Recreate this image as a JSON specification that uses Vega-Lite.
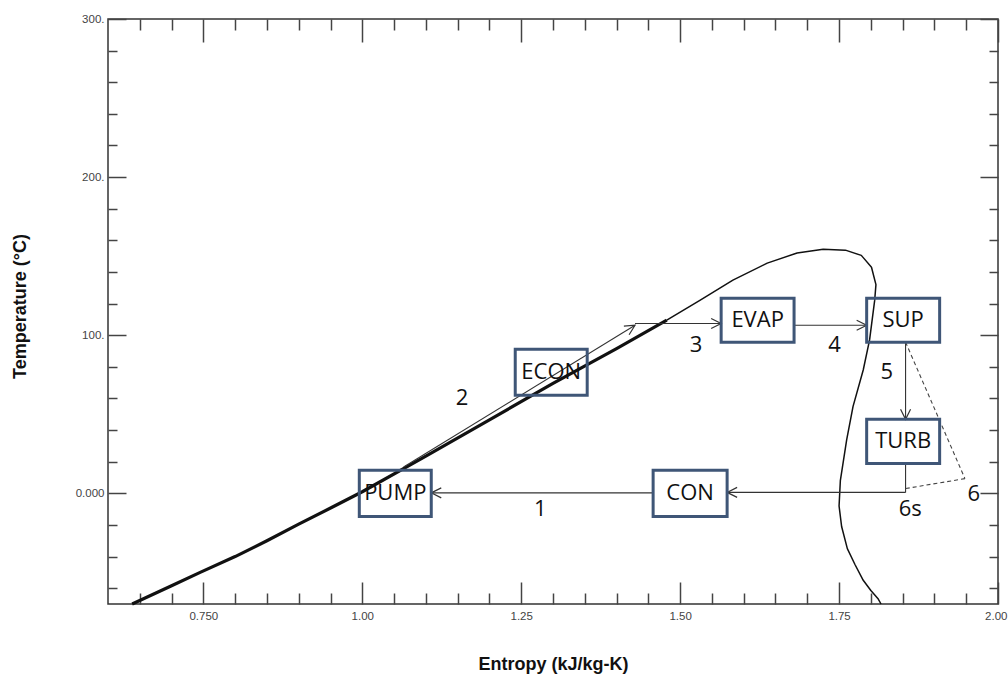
{
  "$schema": "https://vega.github.io/schema/vega-lite/v6.json",
  "width": 890,
  "height": 585,
  "autosize": {"type": "none"},
  "padding": {"left": 108, "top": 19, "right": 10, "bottom": 71},
  "background": "white",
  "config": {
    "view": {"stroke": "#333", "strokeWidth": 1.5},
    "axis": {"grid": false, "domain": false, "tickColor": "#444", "tickWidth": 1.5, "labelFont": "Liberation Sans", "labelFontSize": 11.5, "labelColor": "#444", "labelFlush": false, "labelOverlap": false}
  },
  "datasets": {
    "dome": [
      {"s": 0.638, "T": -70, "part": "liq", "i": 0},
      {"s": 0.7, "T": -58.5, "part": "liq", "i": 1},
      {"s": 0.745, "T": -50, "part": "liq", "i": 2},
      {"s": 0.8, "T": -40, "part": "liq", "i": 3},
      {"s": 0.85, "T": -30, "part": "liq", "i": 4},
      {"s": 0.9, "T": -19.5, "part": "liq", "i": 5},
      {"s": 0.954, "T": -8.5, "part": "liq", "i": 6},
      {"s": 1.0, "T": 1, "part": "liq", "i": 7},
      {"s": 1.1, "T": 23.5, "part": "liq", "i": 8},
      {"s": 1.2, "T": 46.5, "part": "liq", "i": 9},
      {"s": 1.3, "T": 69.5, "part": "liq", "i": 10},
      {"s": 1.4, "T": 91.5, "part": "liq", "i": 11},
      {"s": 1.479, "T": 109.5, "part": "liq", "i": 12},
      {"s": 1.479, "T": 109.5, "part": "vap", "i": 12},
      {"s": 1.531, "T": 122, "part": "vap", "i": 13},
      {"s": 1.583, "T": 134.8, "part": "vap", "i": 14},
      {"s": 1.637, "T": 145.6, "part": "vap", "i": 15},
      {"s": 1.684, "T": 152, "part": "vap", "i": 16},
      {"s": 1.725, "T": 154.4, "part": "vap", "i": 17},
      {"s": 1.76, "T": 153.8, "part": "vap", "i": 18},
      {"s": 1.785, "T": 150.5, "part": "vap", "i": 19},
      {"s": 1.801, "T": 143, "part": "vap", "i": 20},
      {"s": 1.808, "T": 132, "part": "vap", "i": 21},
      {"s": 1.806, "T": 122, "part": "vap", "i": 22},
      {"s": 1.798, "T": 97, "part": "vap", "i": 23},
      {"s": 1.788, "T": 78, "part": "vap", "i": 24},
      {"s": 1.772, "T": 55, "part": "vap", "i": 25},
      {"s": 1.762, "T": 34, "part": "vap", "i": 26},
      {"s": 1.752, "T": 8, "part": "vap", "i": 27},
      {"s": 1.75, "T": -8, "part": "vap", "i": 28},
      {"s": 1.754, "T": -21, "part": "vap", "i": 29},
      {"s": 1.763, "T": -35, "part": "vap", "i": 30},
      {"s": 1.775, "T": -45, "part": "vap", "i": 31},
      {"s": 1.788, "T": -55, "part": "vap", "i": 32},
      {"s": 1.8, "T": -61.5, "part": "vap", "i": 33},
      {"s": 1.811, "T": -66.5, "part": "vap", "i": 34},
      {"s": 1.816, "T": -70, "part": "vap", "i": 35}
    ],
    "segs": [
      {"seg": "1a", "s1": 1.8546, "T1": 0.6, "s2": 1.5739, "T2": 0.6},
      {"seg": "1b", "s1": 1.4575, "T1": 0.3, "s2": 1.1085, "T2": 0.3},
      {"seg": "2", "s1": 1.065, "T1": 16.6, "s2": 1.429, "T2": 106.3},
      {"seg": "3", "s1": 1.429, "T1": 107.4, "s2": 1.5645, "T2": 107.4},
      {"seg": "4", "s1": 1.6792, "T1": 106.3, "s2": 1.7934, "T2": 106.3},
      {"seg": "5", "s1": 1.8546, "T1": 95.6, "s2": 1.8546, "T2": 46.8},
      {"seg": "6s", "s1": 1.8546, "T1": 18.9, "s2": 1.8546, "T2": 0.6}
    ],
    "dashed": [
      {"seg": "5-6", "s1": 1.8546, "T1": 95.6, "s2": 1.948, "T2": 9.3},
      {"seg": "6-6s", "s1": 1.948, "T1": 9.3, "s2": 1.8546, "T2": 3.0}
    ],
    "heads": [
      {"s": 1.5739, "T": 0.6, "dir": "left"},
      {"s": 1.1085, "T": 0.3, "dir": "left"},
      {"s": 1.429, "T": 106.3, "dir": "upright"},
      {"s": 1.5645, "T": 107.4, "dir": "right"},
      {"s": 1.7934, "T": 106.3, "dir": "right"},
      {"s": 1.8546, "T": 46.8, "dir": "down"}
    ],
    "boxes": [
      {"name": "ECON", "s1": 1.2406, "s2": 1.3538, "T1": 62.0, "T2": 91.1, "sc": 1.2972, "Tc": 76.6},
      {"name": "PUMP", "s1": 0.9953, "s2": 1.1085, "T1": -14.6, "T2": 14.6, "sc": 1.0519, "Tc": 0},
      {"name": "CON", "s1": 1.4575, "s2": 1.5739, "T1": -14.6, "T2": 14.6, "sc": 1.5157, "Tc": 0},
      {"name": "EVAP", "s1": 1.5645, "s2": 1.6792, "T1": 95.6, "T2": 123.4, "sc": 1.6219, "Tc": 109.5},
      {"name": "SUP", "s1": 1.7934, "s2": 1.9082, "T1": 95.6, "T2": 123.4, "sc": 1.8508, "Tc": 109.5},
      {"name": "TURB", "s1": 1.7934, "s2": 1.9082, "T1": 18.9, "T2": 46.8, "sc": 1.8508, "Tc": 32.9}
    ],
    "labels": [
      {"lab": "1", "s": 1.28, "T": -10},
      {"lab": "2", "s": 1.157, "T": 60.3},
      {"lab": "3", "s": 1.525, "T": 93.7},
      {"lab": "4", "s": 1.743, "T": 93.7},
      {"lab": "5", "s": 1.825, "T": 76.8},
      {"lab": "6", "s": 1.962, "T": -0.2},
      {"lab": "6s", "s": 1.862, "T": -9.7}
    ]
  },
  "resolve": {"axis": {"x": "independent", "y": "independent"}},
  "layer": [
    {
      "data": {"name": "dome"},
      "transform": [{"filter": "datum.part == 'liq'"}],
      "mark": {"type": "line", "color": "#111", "strokeWidth": 3.2, "strokeJoin": "round"},
      "encoding": {
        "x": {"field": "s", "type": "quantitative", "scale": {"domain": [0.6, 2.0], "nice": false, "zero": false},
          "axis": {"orient": "bottom", "values": [0.75, 1, 1.25, 1.5, 1.75, 2], "tickSize": -22, "labelPadding": 28,
            "labelExpr": "datum.value == 0.75 ? '0.750' : format(datum.value, '.2f')",
            "labelAlign": {"condition": {"test": "datum.value == 2", "value": "right"}, "value": "center"},
            "labelOffset": {"condition": {"test": "datum.value == 2", "value": 9}, "value": 0},
            "title": "Entropy (kJ/kg-K)", "titleFont": "Liberation Sans", "titleFontSize": 18, "titleFontWeight": "bold", "titleColor": "#111",
            "titleY": 65, "titleBaseline": "alphabetic"}},
        "y": {"field": "T", "type": "quantitative", "scale": {"domain": [-70, 300], "nice": false, "zero": false},
          "axis": {"orient": "left", "values": [0, 100, 200, 300], "tickSize": -18, "labelPadding": 22,
            "labelExpr": "datum.value == 0 ? '0.000' : format(datum.value, 'd') + '.'",
            "title": "Temperature (°C)", "titleFont": "Liberation Sans", "titleFontSize": 18, "titleFontWeight": "bold", "titleColor": "#111",
            "titleX": -88, "titleY": 287, "titleBaseline": "middle"}},
        "order": {"field": "i", "type": "quantitative"}
      }
    },
    {
      "data": {"name": "dome"},
      "transform": [{"filter": "datum.part == 'vap'"}],
      "mark": {"type": "line", "color": "#111", "strokeWidth": 1.5, "strokeJoin": "round"},
      "encoding": {
        "x": {"field": "s", "type": "quantitative", "scale": {"domain": [0.6, 2.0], "nice": false, "zero": false}, "axis": null},
        "y": {"field": "T", "type": "quantitative", "scale": {"domain": [-70, 300], "nice": false, "zero": false}, "axis": null},
        "order": {"field": "i", "type": "quantitative"}
      }
    },
    {
      "data": {"name": "segs"},
      "mark": {"type": "rule", "color": "#333", "strokeWidth": 1.1},
      "encoding": {
        "x": {"field": "s1", "type": "quantitative", "scale": {"domain": [0.6, 2.0], "nice": false, "zero": false},
          "axis": {"orient": "bottom", "values": [0.65, 0.7, 0.8, 0.85, 0.9, 0.95, 1.05, 1.1, 1.15, 1.2, 1.3, 1.35, 1.4, 1.45, 1.55, 1.6, 1.65, 1.7, 1.8, 1.85, 1.9, 1.95], "tickSize": -11, "labels": false, "title": null}},
        "x2": {"field": "s2"},
        "y": {"field": "T1", "type": "quantitative", "scale": {"domain": [-70, 300], "nice": false, "zero": false},
          "axis": {"orient": "left", "values": [-60, -40, -20, 20, 40, 60, 80, 120, 140, 160, 180, 220, 240, 260, 280], "tickSize": -9, "labels": false, "title": null}},
        "y2": {"field": "T2"}
      }
    },
    {
      "data": {"name": "dashed"},
      "mark": {"type": "rule", "color": "#444", "strokeWidth": 1.1, "strokeDash": [4, 3]},
      "encoding": {
        "x": {"field": "s1", "type": "quantitative", "scale": {"domain": [0.6, 2.0], "nice": false, "zero": false}, "axis": null},
        "x2": {"field": "s2"},
        "y": {"field": "T1", "type": "quantitative", "scale": {"domain": [-70, 300], "nice": false, "zero": false}, "axis": null},
        "y2": {"field": "T2"}
      }
    },
    {
      "data": {"name": "heads"},
      "transform": [{"filter": "datum.dir == 'right'"}],
      "mark": {"type": "point", "shape": "M-1,-0.5L0,0L-1,0.5", "filled": false, "color": "#333", "strokeWidth": 1.2, "size": 400, "opacity": 1, "angle": 0},
      "encoding": {
        "x": {"field": "s", "type": "quantitative", "scale": {"domain": [0.6, 2.0], "nice": false, "zero": false}, "axis": null},
        "y": {"field": "T", "type": "quantitative", "scale": {"domain": [-70, 300], "nice": false, "zero": false}, "axis": null}
      }
    },
    {
      "data": {"name": "heads"},
      "transform": [{"filter": "datum.dir == 'left'"}],
      "mark": {"type": "point", "shape": "M-1,-0.5L0,0L-1,0.5", "filled": false, "color": "#333", "strokeWidth": 1.2, "size": 400, "opacity": 1, "angle": 180},
      "encoding": {
        "x": {"field": "s", "type": "quantitative", "scale": {"domain": [0.6, 2.0], "nice": false, "zero": false}, "axis": null},
        "y": {"field": "T", "type": "quantitative", "scale": {"domain": [-70, 300], "nice": false, "zero": false}, "axis": null}
      }
    },
    {
      "data": {"name": "heads"},
      "transform": [{"filter": "datum.dir == 'down'"}],
      "mark": {"type": "point", "shape": "M-1,-0.5L0,0L-1,0.5", "filled": false, "color": "#333", "strokeWidth": 1.2, "size": 400, "opacity": 1, "angle": 90},
      "encoding": {
        "x": {"field": "s", "type": "quantitative", "scale": {"domain": [0.6, 2.0], "nice": false, "zero": false}, "axis": null},
        "y": {"field": "T", "type": "quantitative", "scale": {"domain": [-70, 300], "nice": false, "zero": false}, "axis": null}
      }
    },
    {
      "data": {"name": "heads"},
      "transform": [{"filter": "datum.dir == 'upright'"}],
      "mark": {"type": "point", "shape": "M-1,-0.5L0,0L-1,0.5", "filled": false, "color": "#333", "strokeWidth": 1.2, "size": 400, "opacity": 1, "angle": 328.5},
      "encoding": {
        "x": {"field": "s", "type": "quantitative", "scale": {"domain": [0.6, 2.0], "nice": false, "zero": false}, "axis": null},
        "y": {"field": "T", "type": "quantitative", "scale": {"domain": [-70, 300], "nice": false, "zero": false}, "axis": null}
      }
    },
    {
      "data": {"name": "boxes"},
      "mark": {"type": "rect", "filled": false, "stroke": "#3f5677", "strokeWidth": 3},
      "encoding": {
        "x": {"field": "s1", "type": "quantitative", "scale": {"domain": [0.6, 2.0], "nice": false, "zero": false},
          "axis": {"orient": "top", "values": [0.75, 1, 1.25, 1.5, 1.75, 2], "tickSize": -23, "labels": false, "title": null}},
        "x2": {"field": "s2"},
        "y": {"field": "T1", "type": "quantitative", "scale": {"domain": [-70, 300], "nice": false, "zero": false},
          "axis": {"orient": "right", "values": [0, 100, 200, 300], "tickSize": -18, "labels": false, "title": null}},
        "y2": {"field": "T2"}
      }
    },
    {
      "data": {"name": "boxes"},
      "mark": {"type": "text", "font": "Open Sans", "fontSize": 22, "color": "#111", "align": "center", "baseline": "middle"},
      "encoding": {
        "x": {"field": "sc", "type": "quantitative", "scale": {"domain": [0.6, 2.0], "nice": false, "zero": false},
          "axis": {"orient": "top", "values": [0.65, 0.7, 0.8, 0.85, 0.9, 0.95, 1.05, 1.1, 1.15, 1.2, 1.3, 1.35, 1.4, 1.45, 1.55, 1.6, 1.65, 1.7, 1.8, 1.85, 1.9, 1.95], "tickSize": -11, "labels": false, "title": null}},
        "y": {"field": "Tc", "type": "quantitative", "scale": {"domain": [-70, 300], "nice": false, "zero": false},
          "axis": {"orient": "right", "values": [-60, -40, -20, 20, 40, 60, 80, 120, 140, 160, 180, 220, 240, 260, 280], "tickSize": -9, "labels": false, "title": null}},
        "text": {"field": "name", "type": "nominal"}
      }
    },
    {
      "data": {"name": "labels"},
      "mark": {"type": "text", "font": "Open Sans", "fontSize": 22, "color": "#111", "align": "center", "baseline": "middle"},
      "encoding": {
        "x": {"field": "s", "type": "quantitative", "scale": {"domain": [0.6, 2.0], "nice": false, "zero": false}, "axis": null},
        "y": {"field": "T", "type": "quantitative", "scale": {"domain": [-70, 300], "nice": false, "zero": false}, "axis": null},
        "text": {"field": "lab", "type": "nominal"}
      }
    }
  ]
}
